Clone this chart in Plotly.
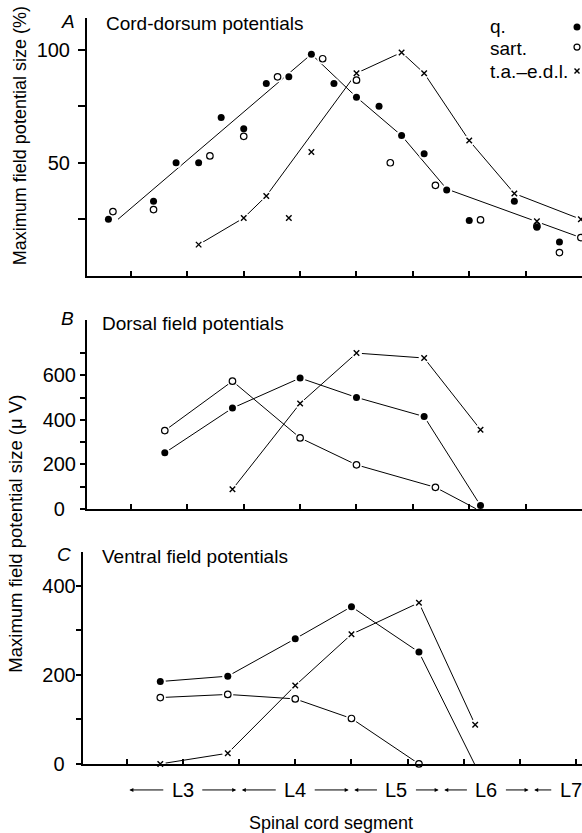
import plotly.graph_objects as go

W, H = 582, 833          # reference canvas (all positions below are in these pixels)
FIG_H = 845              # figure height (compensates the vertical fit of the capture)

# ---------------- data ----------------
# x positions: electrode positions along the cord (mm); ticks every 5 mm
x_ticks = [5, 10, 15, 20, 25, 30, 35, 40, 45]

# Panel A: cord-dorsum potentials (% of max)
a_q_x = [3, 7, 9, 11, 13, 15, 17, 19, 21, 23, 25, 27, 29, 31, 33, 35, 39, 41, 43]
a_q_y = [25, 33, 50, 50, 70, 65, 85, 88, 98, 85, 79, 75, 62, 54, 38, 24.5, 33, 21.5, 15]
a_sart_x = [3.4, 7, 12, 15, 18, 22, 25, 28, 32, 36, 41, 43, 44.9]
a_sart_y = [28.4, 29.3, 53, 61.7, 88, 96, 86.5, 50, 40, 24.7, 22, 10.3, 16.9]
a_ta_x = [11, 15, 17, 19, 21, 25, 29, 31, 35, 39, 41, 44.9]
a_ta_y = [13.8, 25.6, 35.3, 25.6, 54.8, 89.6, 98.8, 89.6, 59.8, 36.4, 24.1, 25]
a_fit_qs_x = [3.85, 21, 25, 29, 33, 44.9]
a_fit_qs_y = [25, 98, 79, 62, 38.4, 16.9]
a_fit_ta_x = [11, 15, 17, 25, 29, 31, 35, 39, 44.9]
a_fit_ta_y = [13.8, 25.6, 35.3, 89.6, 98.8, 89.6, 59.8, 36.4, 25]

# Panel B: dorsal field potentials (uV)
b_q_x = [8, 14, 20, 25, 31, 36]
b_q_y = [252, 453, 588, 501, 415, 15]
b_sart_x = [8, 14, 20, 25, 32, 36]
b_sart_y = [352, 574, 319, 198, 97, -10]
b_ta_x = [14, 20, 25, 31, 36]
b_ta_y = [88, 474, 700, 678, 356]

# Panel C: ventral field potentials (uV)
c_q_x = [8, 14, 20, 25, 31, 36]
c_q_y = [185, 197, 281, 353, 251, -3]
c_sart_x = [8, 14, 20, 25, 31]
c_sart_y = [149, 156, 146, 102, 0]
c_ta_x = [8, 14, 20, 25, 31, 36]
c_ta_y = [0, 24, 176, 291, 362, 88]

# Spinal cord segments
seg_names = ["L3", "L4", "L5", "L6", "L7"]
seg_bounds = [5, 15, 25, 33, 41, 48]

# y ticks
a_yticks = [25, 50, 75, 100]
a_ylabels = ["", "50", "", "100"]
b_yticks = [0, 100, 200, 300, 400, 500, 600, 700]
b_ylabels = ["0\u00a0\u00a0", "", "200", "", "400", "", "600", ""]
c_yticks = [0, 100, 200, 300, 400]
c_ylabels = ["0\u00a0\u00a0", "", "200", "", "400"]

FONT = "Liberation Sans, Arial, Helvetica, sans-serif"

fig = go.Figure()

panels = [
    ("x", "y", [(a_fit_qs_x, a_fit_qs_y), (a_fit_ta_x, a_fit_ta_y)],
     [(a_q_x, a_q_y), (a_sart_x, a_sart_y), (a_ta_x, a_ta_y)]),
    ("x2", "y2", [(b_q_x, b_q_y), (b_sart_x, b_sart_y), (b_ta_x, b_ta_y)],
     [(b_q_x, b_q_y), (b_sart_x, b_sart_y), (b_ta_x, b_ta_y)]),
    ("x3", "y3", [(c_q_x, c_q_y), (c_sart_x, c_sart_y), (c_ta_x, c_ta_y)],
     [(c_q_x, c_q_y), (c_sart_x, c_sart_y), (c_ta_x, c_ta_y)]),
]

marker_styles = [
    dict(symbol="circle", size=7, color="black", line=dict(width=0)),
    dict(symbol="circle-open", size=6.5, color="black", line=dict(width=1.2, color="black")),
    dict(symbol="x-thin", size=5.5, color="black", line=dict(width=1.4, color="black")),
]

# lines
for xa, ya, lines, pts in panels:
    for lx, ly in lines:
        fig.add_trace(go.Scatter(x=lx, y=ly, mode="lines", xaxis=xa, yaxis=ya,
                                 line=dict(color="black", width=1), hoverinfo="skip",
                                 showlegend=False))
# halos (line gaps around markers)
for xa, ya, lines, pts in panels:
    for px, py in pts:
        fig.add_trace(go.Scatter(x=px, y=py, mode="markers", xaxis=xa, yaxis=ya,
                                 marker=dict(symbol="circle", size=11, color="white"),
                                 cliponaxis=False, hoverinfo="skip", showlegend=False))
# markers
for xa, ya, lines, pts in panels:
    for (px, py), ms in zip(pts, marker_styles):
        fig.add_trace(go.Scatter(x=px, y=py, mode="markers", xaxis=xa, yaxis=ya,
                                 marker=ms, cliponaxis=False, showlegend=False))

def px2x(p):
    return p / W

def py2y(p):
    return 1 - p / H

xcommon = dict(tickvals=x_ticks, showticklabels=False, ticks="inside", ticklen=5,
               tickwidth=1.5, tickcolor="black", showline=True, linewidth=2,
               linecolor="black", showgrid=False, zeroline=False)
ycommon = dict(ticks="outside", tickwidth=1.5, tickcolor="black", showline=True,
               linewidth=2, linecolor="black", showgrid=False, zeroline=False,
               tickfont=dict(family=FONT, size=20, color="black"))

fig.update_layout(
    width=W, height=FIG_H, margin=dict(l=0, r=0, t=0, b=0),
    paper_bgcolor="white", plot_bgcolor="white", showlegend=False,
    font=dict(family=FONT, color="black"),
    xaxis=dict(domain=[px2x(87), 1], range=[1.1, 45.0], anchor="y", **xcommon),
    yaxis=dict(domain=[py2y(275.5), py2y(18)], range=[0, 114], anchor="x",
               tickvals=a_yticks, ticktext=a_ylabels, ticklen=7,
               ticklabelstandoff=4, **ycommon),
    xaxis2=dict(domain=[px2x(87), 1], range=[1.1, 45.0], anchor="y2", **xcommon),
    yaxis2=dict(domain=[py2y(508.3), py2y(320)], range=[0, 847], anchor="x2",
                tickvals=b_yticks, ticktext=b_ylabels, ticklen=5, **ycommon),
    xaxis3=dict(domain=[px2x(82.7), 1], range=[1.1, 45.5], anchor="y3", **xcommon),
    yaxis3=dict(domain=[py2y(763), py2y(551.7)], range=[0, 475], anchor="x3",
                tickvals=c_yticks, ticktext=c_ylabels, ticklen=5,
                ticklabelstandoff=-4, **ycommon),
)

ann = []
def text(x, y, s, size=19, xanchor="left", angle=0, italic=False):
    ann.append(dict(x=px2x(x), y=py2y(y), xref="paper", yref="paper", text=s,
                    showarrow=False, xanchor=xanchor, yanchor="middle", textangle=angle,
                    font=dict(family=FONT, size=size, color="black",
                              style="italic" if italic else "normal")))

text(68, 21, "A", xanchor="center", italic=True)
text(104, 23, "Cord-dorsum potentials")
text(67, 318, "B", xanchor="center", italic=True)
text(100, 323, "Dorsal field potentials")
text(64, 554, "C", xanchor="center", italic=True)
text(100, 556, "Ventral field potentials")
text(20, 136, "Maximum field potential size (%)", size=18, xanchor="center", angle=-90)
text(16, 533, "Maximum field potential size (\u03bc V)", size=18.5, xanchor="center", angle=-90)
text(331, 822, "Spinal cord segment", size=18, xanchor="center")

# legend text
text(488, 26, "q.")
text(488, 48, "sart.")
text(488, 71, "t.a.\u2013e.d.l.")

# segment labels with arrows
seg_y = py2y(789)
for i, name in enumerate(seg_names):
    lo, hi = seg_bounds[i], seg_bounds[i + 1]
    mid = (lo + hi) / 2
    ann.append(dict(x=mid, y=seg_y, xref="x3", yref="paper", text=name, showarrow=False,
                    xanchor="center", yanchor="middle",
                    font=dict(family=FONT, size=20, color="black")))
    ann.append(dict(x=lo + 0.25, y=seg_y, xref="x3", yref="paper", text="",
                    showarrow=True, axref="x3", ax=mid - 1.6, ayref="pixel", ay=0,
                    arrowhead=2, arrowsize=0.8, arrowwidth=1, arrowcolor="black",
                    standoff=0, startstandoff=0))
    if i < len(seg_names) - 1:
        ann.append(dict(x=hi - 0.25, y=seg_y, xref="x3", yref="paper", text="",
                        showarrow=True, axref="x3", ax=mid + 1.6, ayref="pixel", ay=0,
                        arrowhead=2, arrowsize=0.8, arrowwidth=1, arrowcolor="black",
                        standoff=0, startstandoff=0))

fig.update_layout(annotations=ann)

# legend keys (drawn as shapes in pixel size)
shapes = []
lx = px2x(577)
shapes.append(dict(type="circle", xref="paper", yref="paper", xsizemode="pixel",
                   ysizemode="pixel", xanchor=lx, yanchor=py2y(27),
                   x0=-3.5, x1=3.5, y0=-3.5, y1=3.5, fillcolor="black",
                   line=dict(width=0)))
shapes.append(dict(type="circle", xref="paper", yref="paper", xsizemode="pixel",
                   ysizemode="pixel", xanchor=lx, yanchor=py2y(47),
                   x0=-3, x1=3, y0=-3, y1=3, fillcolor="white",
                   line=dict(width=1.2, color="black")))
for d in (1, -1):
    shapes.append(dict(type="line", xref="paper", yref="paper", xsizemode="pixel",
                       ysizemode="pixel", xanchor=lx, yanchor=py2y(71),
                       x0=-2.5, x1=2.5, y0=-2.5 * d, y1=2.5 * d,
                       line=dict(width=1.4, color="black")))
fig.update_layout(shapes=shapes)

fig.write_html("out.html", config={"displayModeBar": False},
               post_script="document.body.style.margin='0px';"
                           "document.body.style.overflow='hidden';")
